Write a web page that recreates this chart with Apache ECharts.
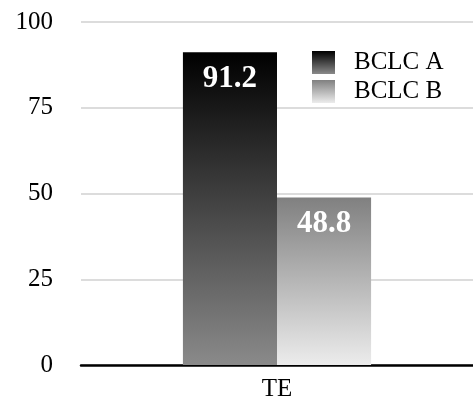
<!DOCTYPE html>
<html>
<head>
<meta charset="utf-8">
<script src="https://cdn.jsdelivr.net/npm/echarts@6/dist/echarts.min.js"></script>
<style>
  html, body { margin: 0; padding: 0; background: #fff; }
  #chart { width: 473px; height: 402px; }
</style>
</head>
<body>
<div id="chart"></div>
<script>
// Treatment efficacy by BCLC stage
const categories = ['TE'];
const seriesNames = ['BCLC A', 'BCLC B'];
const bclcA = [91.2];
const bclcB = [48.8];
const yTicks = [0, 25, 50, 75, 100];

const FONT = "'Times New Roman', 'Liberation Serif', Tinos, 'DejaVu Serif', serif";

function vGrad(top, bottom) {
  return new echarts.graphic.LinearGradient(0, 0, 0, 1, [
    { offset: 0, color: top },
    { offset: 1, color: bottom }
  ]);
}

const gradA = vGrad('#000000', '#8a8a8a');
const gradB = vGrad('#808080', '#ececec');

const labelStyle = {
  show: true,
  position: 'insideTop',
  distance: 11,
  color: '#ffffff',
  fontFamily: FONT,
  fontWeight: 'bold',
  fontSize: 31,
  formatter: p => p.value.toFixed(1)
};

const chart = echarts.init(document.getElementById('chart'), null, { renderer: 'canvas' });
chart.setOption({
  animation: false,
  backgroundColor: '#ffffff',
  grid: { left: 81, right: 0, top: 22, bottom: 37, containLabel: false },
  legend: {
    data: seriesNames,
    orient: 'vertical',
    left: 307,
    top: 45,
    itemWidth: 23,
    itemHeight: 23,
    itemGap: 4,
    icon: 'rect',
    textStyle: { fontFamily: FONT, fontSize: 25, lineHeight: 25, color: '#000', padding: [0, 0, 0, 14] }
  },
  xAxis: {
    type: 'category',
    data: categories,
    axisLine: { lineStyle: { color: '#000', width: 2.5 } },
    axisTick: { show: false },
    axisLabel: { fontFamily: FONT, fontSize: 25, color: '#000', margin: 12 }
  },
  yAxis: {
    type: 'value',
    min: yTicks[0],
    max: yTicks[yTicks.length - 1],
    interval: yTicks[1] - yTicks[0],
    axisLine: { show: false },
    axisTick: { show: false },
    splitLine: { lineStyle: { color: '#d0d0d0', width: 1.5 } },
    axisLabel: { fontFamily: FONT, fontSize: 25, color: '#000', margin: 28 }
  },
  series: [
    {
      name: seriesNames[0],
      type: 'bar',
      data: bclcA,
      barGap: '0%',
      barCategoryGap: '52%',
      itemStyle: { color: gradA },
      label: labelStyle
    },
    {
      name: seriesNames[1],
      type: 'bar',
      data: bclcB,
      itemStyle: { color: gradB },
      label: labelStyle
    }
  ]
});
</script>
</body>
</html>
